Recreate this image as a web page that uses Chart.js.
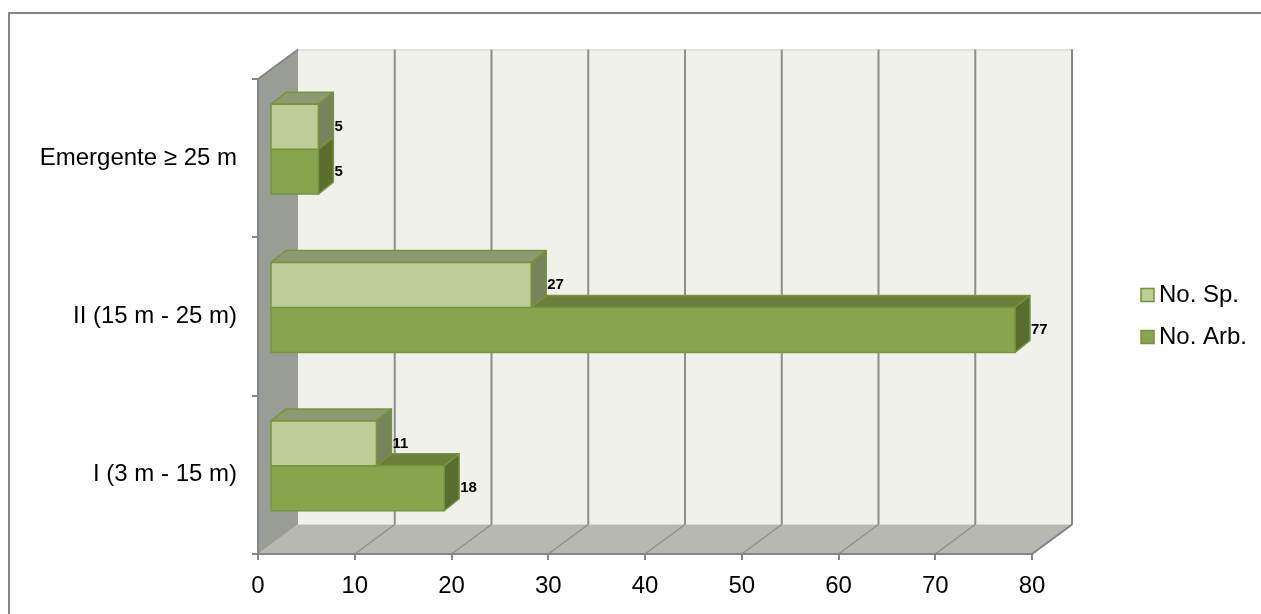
<!DOCTYPE html>
<html>
<head>
<meta charset="utf-8">
<script src="https://cdn.jsdelivr.net/npm/chart.js@4.4.1/dist/chart.umd.min.js"></script>
<style>
    body { margin: 0; background: #fff; }
</style>
</head>
<body>
<canvas id="strataChart" width="1261" height="614"></canvas>
<script>
// estratos verticales, de arriba hacia abajo como en el grafico
const categories = ["Emergente ≥ 25 m", "II (15 m - 25 m)", "I (3 m - 15 m)"];
const noSp = [5, 27, 11];
const noArb = [5, 77, 18];
const xTickValues = [0, 10, 20, 30, 40, 50, 60, 70, 80];

const fontFamily = '"Liberation Sans", Arial, sans-serif';
const axisGrey = "#868686";

// 3D look: depth of the walls, where the bars sit, how deep they are
const wallDepth = { dx: 40, dy: -29.5 };
const barShift = { dx: 12, dy: -9 };
const barDepth = { dx: 15, dy: -12 };

function poly(ctx, pts, fill, stroke, lw) {
    ctx.beginPath();
    ctx.moveTo(pts[0][0], pts[0][1]);
    for (let i = 1; i < pts.length; i++) {
        ctx.lineTo(pts[i][0], pts[i][1]);
    }
    ctx.closePath();
    if (fill) {
        ctx.fillStyle = fill;
        ctx.fill();
    }
    if (stroke) {
        ctx.strokeStyle = stroke;
        ctx.lineWidth = lw || 1;
        ctx.lineJoin = "round";
        ctx.stroke();
    }
}

function line(ctx, x1, y1, x2, y2, color, lw) {
    ctx.beginPath();
    ctx.moveTo(x1, y1);
    ctx.lineTo(x2, y2);
    ctx.strokeStyle = color;
    ctx.lineWidth = lw;
    ctx.stroke();
}

const box3d = {
    id: "box3d",
    beforeDraw(chart) {
        const ctx = chart.ctx;
        const a = chart.chartArea;
        const x = chart.scales.x;
        const dx = wallDepth.dx, dy = wallDepth.dy;
        ctx.save();

        // back wall
        ctx.fillStyle = "#eff1ea";
        ctx.fillRect(a.left + dx, a.top + dy, a.right - a.left, a.bottom - a.top);
        line(ctx, a.left + dx, a.top + dy + 0.5, a.right + dx, a.top + dy + 0.5, "#cfd1cb", 1);

        // floor
        poly(ctx, [[a.left, a.bottom], [a.right, a.bottom], [a.right + dx, a.bottom + dy], [a.left + dx, a.bottom + dy]], "#b7b9b1");

        // gridlines on back wall and floor
        xTickValues.forEach((v, i) => {
            if (i === 0) return;
            const px = x.getPixelForValue(v);
            line(ctx, px + dx, a.top + dy, px + dx, a.bottom + dy, "#8e8e8e", 2);
            line(ctx, px, a.bottom, px + dx, a.bottom + dy, "#8e8e8e", 1.5);
        });

        // side wall
        poly(ctx, [[a.left, a.top], [a.left + dx, a.top + dy], [a.left + dx, a.bottom + dy], [a.left, a.bottom]], "#9a9c96");
        line(ctx, a.left, a.top, a.left + dx, a.top + dy, axisGrey, 2);

        ctx.restore();
    },
    beforeDatasetsDraw(chart) {
        const ctx = chart.ctx;
        const labels = [];
        ctx.save();
        // lower series first so the upper one sits on it
        [1, 0].forEach(di => {
            const ds = chart.data.datasets[di];
            chart.getDatasetMeta(di).data.forEach((bar, j) => {
                const p = bar.getProps(["x", "y", "base", "height"], true);
                const l = p.base + barShift.dx;
                const r = p.x + barShift.dx;
                const t = p.y - p.height / 2 + barShift.dy;
                const b = p.y + p.height / 2 + barShift.dy;
                const bx = barDepth.dx, by = barDepth.dy;

                poly(ctx, [[l, t], [l + bx, t + by], [r + bx, t + by], [r, t]], ds.topColor, ds.borderColor, 1.5);
                poly(ctx, [[r, t], [r + bx, t + by], [r + bx, b + by], [r, b]], ds.sideColor, ds.borderColor, 1.5);
                poly(ctx, [[l, t], [r, t], [r, b], [l, b]], ds.backgroundColor, ds.borderColor, 1.5);

                labels.push({ text: String(ds.data[j]), x: r + bx + 1, y: (t + b) / 2 });
            });
        });

        ctx.fillStyle = "#000";
        ctx.font = "bold 15px " + fontFamily;
        ctx.textAlign = "left";
        ctx.textBaseline = "middle";
        labels.forEach(lb => ctx.fillText(lb.text, lb.x, lb.y));
        ctx.restore();
        return false;
    },
    afterDraw(chart) {
        const ctx = chart.ctx;
        const a = chart.chartArea;
        const dx = wallDepth.dx, dy = wallDepth.dy;
        ctx.save();

        // right edges of the box
        line(ctx, a.right + dx, a.top + dy, a.right + dx, a.bottom + dy, axisGrey, 2);
        line(ctx, a.right, a.bottom, a.right + dx, a.bottom + dy, axisGrey, 2);

        // legend
        const lx = a.right + 109;
        const ly = (a.top + a.bottom) / 2 - 21.5;
        ctx.font = "24px " + fontFamily;
        ctx.textAlign = "left";
        ctx.textBaseline = "middle";
        chart.data.datasets.forEach((ds, i) => {
            const cy = ly + i * 42;
            ctx.fillStyle = ds.backgroundColor;
            ctx.fillRect(lx, cy - 6.5, 13, 13);
            ctx.strokeStyle = ds.borderColor;
            ctx.lineWidth = 1.5;
            ctx.strokeRect(lx, cy - 6.5, 13, 13);
            ctx.fillStyle = "#000";
            ctx.fillText(ds.label, lx + 18, cy);
        });

        // outer frame
        ctx.strokeStyle = axisGrey;
        ctx.lineWidth = 2;
        ctx.strokeRect(9, 13, 1270, 640);
        ctx.restore();
    }
};

let chartEl = document.getElementById("strataChart");
let strataChart = new Chart(chartEl, {
    type: "bar",
    data: {
        labels: categories,
        datasets: [{
            label: "No. Sp.",
            data: noSp,
            backgroundColor: "#bccd97",
            topColor: "#8b9a70",
            sideColor: "#76845b",
            borderColor: "#77933c"
        }, {
            label: "No. Arb.",
            data: noArb,
            backgroundColor: "#88a44c",
            topColor: "#6b7f3a",
            sideColor: "#596d2e",
            borderColor: "#77933c"
        }]
    },
    options: {
        indexAxis: "y",
        responsive: false,
        devicePixelRatio: 1,
        animation: false,
        events: [],
        layout: {
            padding: { left: 0, top: 79, right: 229, bottom: 0 }
        },
        datasets: {
            bar: {
                barPercentage: 1,
                categoryPercentage: 0.567
            }
        },
        scales: {
            x: {
                min: xTickValues[0],
                max: xTickValues[xTickValues.length - 1],
                afterBuildTicks(scale) {
                    scale.ticks = xTickValues.map(v => ({ value: v }));
                },
                afterFit(scale) {
                    scale.height = 60;
                },
                grid: {
                    drawOnChartArea: false,
                    drawTicks: true,
                    tickLength: 6,
                    color: axisGrey,
                    lineWidth: 2
                },
                border: { color: axisGrey, width: 2 },
                ticks: {
                    padding: 12,
                    color: "#000",
                    font: { family: fontFamily, size: 24 }
                }
            },
            y: {
                afterFit(scale) {
                    scale.width = 258;
                },
                grid: {
                    drawOnChartArea: false,
                    drawTicks: true,
                    tickLength: 6,
                    color: axisGrey,
                    lineWidth: 2
                },
                border: { color: axisGrey, width: 2 },
                ticks: {
                    padding: 15,
                    color: "#000",
                    font: { family: fontFamily, size: 24 }
                }
            }
        },
        plugins: {
            legend: { display: false },
            tooltip: { enabled: false }
        }
    },
    plugins: [box3d]
});
</script>
</body>
</html>
